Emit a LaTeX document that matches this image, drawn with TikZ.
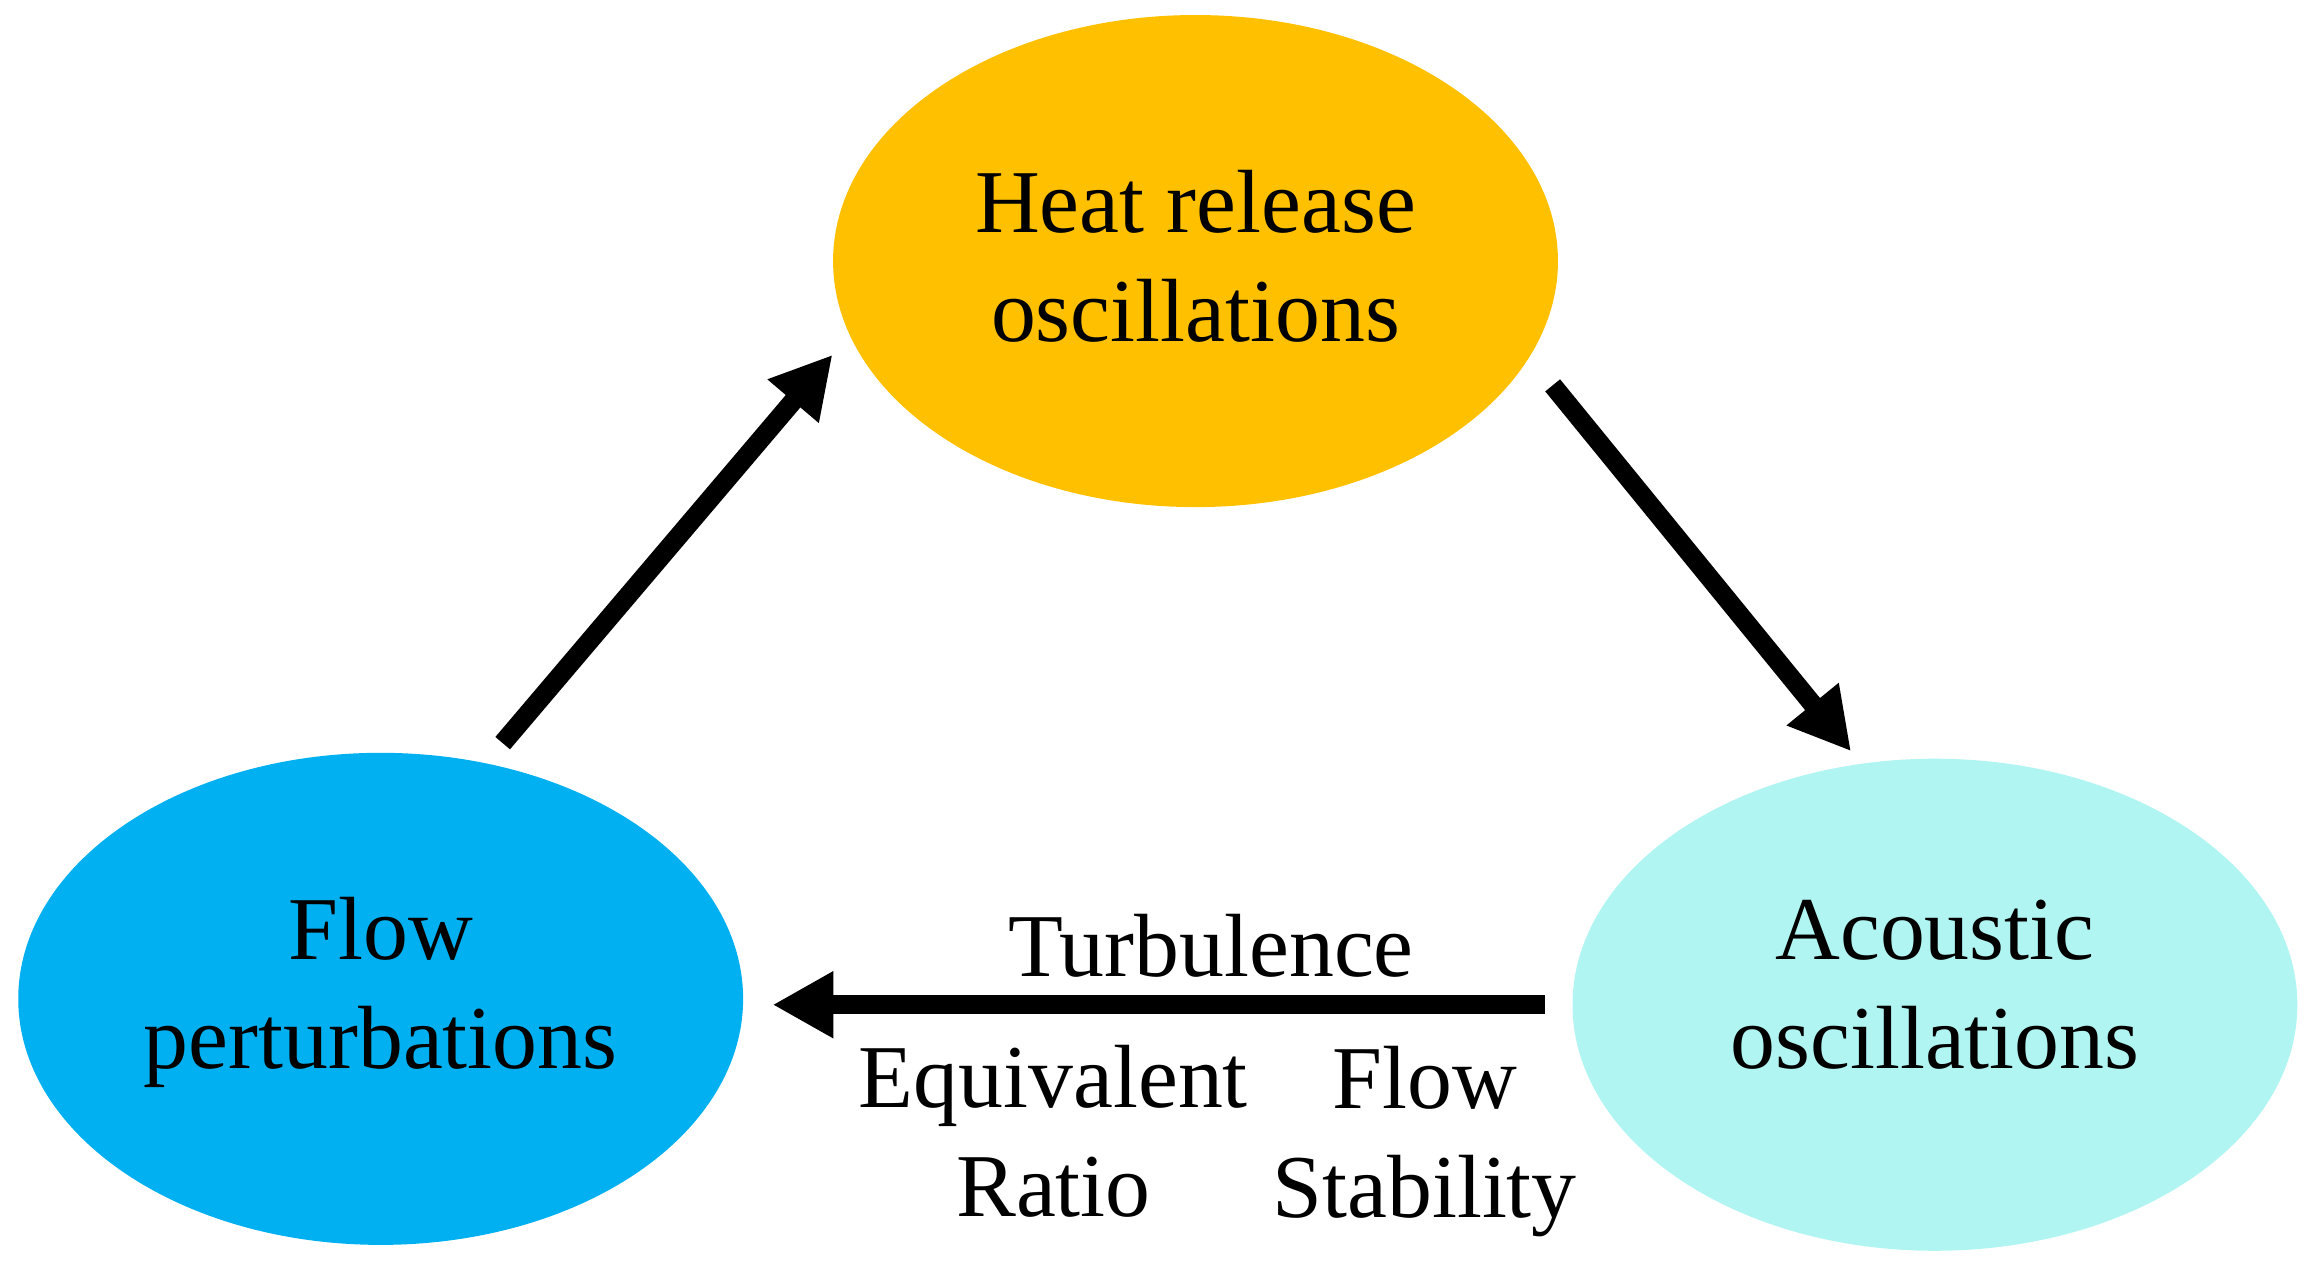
\documentclass[tikz,border=0pt]{standalone}
\usepackage{fontspec}
\setmainfont{Liberation Serif}
\usetikzlibrary{arrows.meta,shapes.geometric}
\definecolor{heatc}{HTML}{FFC000}
\definecolor{flowc}{HTML}{00B0F0}
\definecolor{acouc}{HTML}{B0F5F2}
\begin{document}
\begin{tikzpicture}[x=0.015cm,y=-0.015cm,
  ell/.style={ellipse, minimum width=7.38cm, minimum height=5.01cm, inner sep=0pt, outer sep=0pt, draw=none},
  txt/.style={align=center, inner sep=0pt, font=\fontsize{26pt}{31.6pt}\selectfont},
  arr/.style={line width=0.195cm, -{Triangle[length=0.62cm,width=0.64cm]}}]
\useasboundingbox (0,0) rectangle (1568,861.4);
\node[ell, fill=heatc] (heat) at (811.5,177.2) {};
\node[ell, fill=flowc] (flow) at (258.4,678) {};
\node[ell, fill=acouc] (acou) at (1313.4,682) {};
\node[txt] (heattxt) at (811.5,174.2) {Heat release\\oscillations};
\node[txt] (flowtxt) at (258.4,673.8) {Flow\\perturbations};
\node[txt] (acoutxt) at (1313.4,668.2) {Acoustic\\oscillations};
\draw[arr, shorten <=0.27cm, shorten >=0.27cm] (flow.66.35) -- (heat.192.2);
\draw[arr, shorten <=0.375cm, shorten >=0.165cm] (heat.344.7) -- (acou.107.07);
\draw[arr, shorten <=0.285cm, shorten >=0.3cm] (acou.west) -- (acou.west -| flow.east);
\node[txt, anchor=base] (turb) at (822,663) {Turbulence};
\node[txt] (eqr) at (715,768) {Equivalent\\Ratio};
\node[txt] (fls) at (967,774.8) {Flow\\Stability};
\end{tikzpicture}
\end{document}
